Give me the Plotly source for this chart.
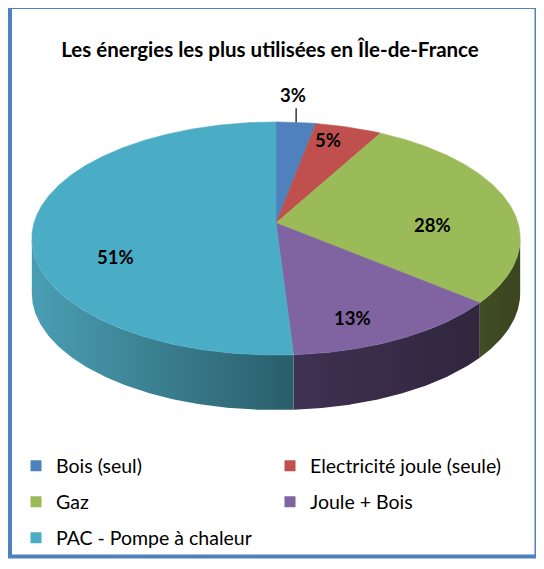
import numpy as np
import plotly.graph_objects as go

# ---------------- data ----------------
categories = ["Bois (seul)", "Electricité joule (seule)", "Gaz", "Joule + Bois", "PAC - Pompe à chaleur"]
values = [3, 5, 28, 13, 51]
title_text = "Les énergies les plus utilisées en Île-de-France"

# ---------------- style ----------------
top_colors = ["#4F81BD", "#C0504D", "#9BBB59", "#8064A2", "#4BACC6"]
side_colors = [("#3B6192", "#2E4C73"), ("#923C3A", "#72302E"), ("#414D24", "#3B4520"),
               ("#3F3152", "#30263E"), ("#4A9EB3", "#2A5E6B")]
label_outside = [True, False, False, False, False]
label_nudge = [(-3, 0), (2, -17), (2, 16), (-2, 22), (0, 32)]
legend_slot = ["legend", "legend", "legend2", "legend2", "legend3"]

PAGE_W, PAGE_H = 544, 569
OFF = 8                          # default body margin of the html page
W, H = PAGE_W - OFF, PAGE_H - OFF
CX, CY = 276, 223        # pie apex (page px)
A, B = 242, 114.5        # semi axes (px)
K = 0.133                # perspective factor
D = 55                   # extrusion depth (px)
FONT = "Lato"


def fx(px):
    return (px - OFF) / W


def fy(py):
    return 1 - (py - OFF) / H


def proj(phi_deg, r=1.0):
    phi = np.radians(phi_deg)
    u = r * np.sin(phi)
    v = -r * np.cos(phi)
    den = 1 - K * v
    return CX + A * u / den, CY + B * v / den


total = float(sum(values))
bounds = np.concatenate([[0], np.cumsum(values)]) / total * 360.0
phi_left = np.degrees(np.arccos(-K))          # rightmost silhouette angle
phi_right = 360 - phi_left                    # leftmost silhouette angle

fig = go.Figure()

# side walls (visible front part only)
for i, cat in enumerate(categories):
    a0, a1 = max(bounds[i], phi_left), min(bounds[i + 1], phi_right)
    if a1 <= a0:
        continue
    ph = np.linspace(a0, a1, 120)
    xs, ys = proj(ph)
    px = np.concatenate([xs, xs[::-1], xs[:1]])
    py = np.concatenate([ys, ys[::-1] + D, ys[:1]])
    fig.add_trace(go.Scatter(
        x=px, y=py, mode="lines", fill="toself", line=dict(width=0, color=side_colors[i][1]),
        fillgradient=dict(type="horizontal",
                          colorscale=[[0, side_colors[i][0]], [1, side_colors[i][1]]]),
        hoverinfo="skip", showlegend=False))

# top faces
for i, cat in enumerate(categories):
    ph = np.linspace(bounds[i], bounds[i + 1], max(8, int((bounds[i + 1] - bounds[i]) * 3)))
    xs, ys = proj(ph)
    px = np.concatenate([[CX], xs, [CX]])
    py = np.concatenate([[CY], ys, [CY]])
    fig.add_trace(go.Scatter(
        x=px, y=py, mode="lines", fill="toself", fillcolor=top_colors[i],
        line=dict(width=0.6, color=top_colors[i]), name=cat,
        hovertemplate=f"{cat}: {values[i]}%<extra></extra>", showlegend=False))

# labels
annotations = []
for i, cat in enumerate(categories):
    mid = (bounds[i] + bounds[i + 1]) / 2
    txt = f"{round(values[i] / total * 100)}%"
    if label_outside[i]:
        rx, ry = proj(mid)
        fig.add_trace(go.Scatter(x=[rx, rx], y=[ry, ry - 14], mode="lines",
                                 line=dict(color="black", width=1.2),
                                 hoverinfo="skip", showlegend=False))
        lx, ly = rx + label_nudge[i][0], ry - 27 + label_nudge[i][1]
    else:
        bx, by = proj(mid, 0.66)
        lx, ly = bx + label_nudge[i][0], by + label_nudge[i][1]
    annotations.append(dict(x=lx, y=ly, xref="x", yref="y", text=f"<b>{txt}</b>",
                            showarrow=False, font=dict(family=FONT, size=18.5, color="black")))

# legend entries
for i, cat in enumerate(categories):
    fig.add_trace(go.Scatter(x=[None], y=[None], mode="markers", name=cat,
                             marker=dict(symbol="square", size=11, color=top_colors[i]),
                             legend=legend_slot[i]))

leg_common = dict(orientation="h", xanchor="left", yanchor="middle", entrywidth=209,
                  entrywidthmode="pixels", bgcolor="rgba(0,0,0,0)", itemwidth=30,
                  font=dict(family=FONT, size=19.5, color="black"))

fig.update_layout(
    width=W, height=H, margin=dict(l=0, r=0, t=0, b=0),
    paper_bgcolor="white", plot_bgcolor="white",
    xaxis=dict(range=[OFF, PAGE_W], visible=False, fixedrange=True),
    yaxis=dict(range=[PAGE_H, OFF], visible=False, fixedrange=True),
    title=dict(text=f"<b>{title_text}</b>", x=fx(270), xanchor="center",
               y=fy(50), yanchor="middle",
               font=dict(family=FONT, size=20.5, color="black")),
    annotations=annotations,
    legend=dict(x=fx(16), y=fy(466), **leg_common),
    legend2=dict(x=fx(16), y=fy(502), **leg_common),
    legend3=dict(x=fx(16), y=fy(538), **leg_common),
    shapes=[dict(type="rect", xref="paper", yref="paper",
                 x0=fx(10), x1=fx(536.5), y0=fy(556.5), y1=fy(7),
                 line=dict(color="#4F81BD", width=4))],
    showlegend=True,
)

fig.write_html("out.html")
